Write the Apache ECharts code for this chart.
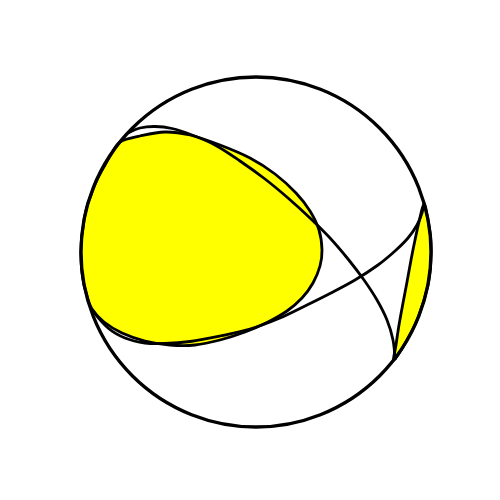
<!DOCTYPE html>
<html>
<head>
<meta charset="utf-8">
<script src="https://cdn.jsdelivr.net/npm/echarts@6/dist/echarts.min.js"></script>
<style>html,body{margin:0;padding:0;background:#fff}#c{width:500px;height:500px}</style>
</head>
<body>
<div id="c"></div>
<script>
// Points (x right, y down, in plot units)
var nodalA = [[128,133],[140,128],[155,126.5],[172,128.5],[192,135],[215,145],[240,161],[265,179],[288,198],[310,218],[330,238],[348,259],[364,280],[377,300],[387,320],[393,340],[395,360]];
var nodalB = [[92,310],[108,328],[125,338],[145,343],[165,343.5],[190,341.5],[220,336],[250,329],[280,318],[305,306],[330,293.5],[355,280],[378,265],[395,251],[408,238],[417,225],[422,213],[424,203]];
var mainFill = [[120,142],[140,136],[165,132],[190,135],[220,145],[250,158],[275,174],[296,193],[310,211],[319,230],[322,250],[320,266],[313,283],[302,298],[287,311],[268,322],[245,332],[220,340],[195,345],[170,345],[145,341],[122,333],[104,322],[92,309],[87,296],[83,280],[81,262],[81,245],[83,228],[86,210],[91,195],[97,180],[105,165],[112,153]];
var sideFill = [[424,204],[419,222],[415,240],[411,260],[407,282],[403,303],[399,325],[396,345],[394,360],[407,340],[417,320],[424,300],[429,280],[431,260],[431,240],[428,220]];

var chart = echarts.init(document.getElementById('c'));

function shapeSeries(data, closed, z) {
  return {
    type: 'custom',
    coordinateSystem: 'cartesian2d',
    silent: true,
    z: z,
    data: data,
    renderItem: function (params, api) {
      if (params.dataIndex !== 0) return null;
      var pts = data.map(function (p) { return api.coord(p); });
      return closed ? {
        type: 'polygon',
        shape: { points: pts, smooth: 0.35 },
        style: { fill: '#ffff00', stroke: '#000', lineWidth: 2.8 }
      } : {
        type: 'polyline',
        shape: { points: pts, smooth: 0.35 },
        style: { fill: null, stroke: '#000', lineWidth: 2.8 }
      };
    }
  };
}

chart.setOption({
  animation: false,
  backgroundColor: '#fff',
  grid: { left: 81, top: 77, width: 350, height: 350 },
  xAxis: { type: 'value', min: 81, max: 431, show: false },
  yAxis: { type: 'value', min: 77, max: 427, inverse: true, show: false },
  polar: { center: [256, 252], radius: 175 },
  angleAxis: {
    type: 'value', min: 0, max: 360, z: 10,
    axisLine: { show: true, lineStyle: { color: '#000', width: 3.3 } },
    axisTick: { show: false }, axisLabel: { show: false }, splitLine: { show: false }
  },
  radiusAxis: { type: 'value', min: 0, max: 1, show: false,
    axisLine: { show: false }, axisTick: { show: false }, axisLabel: { show: false }, splitLine: { show: false } },
  series: [
    shapeSeries(mainFill, true, 1),
    shapeSeries(sideFill, true, 1),
    shapeSeries(nodalA, false, 3),
    shapeSeries(nodalB, false, 3)
  ]
});
</script>
</body>
</html>
